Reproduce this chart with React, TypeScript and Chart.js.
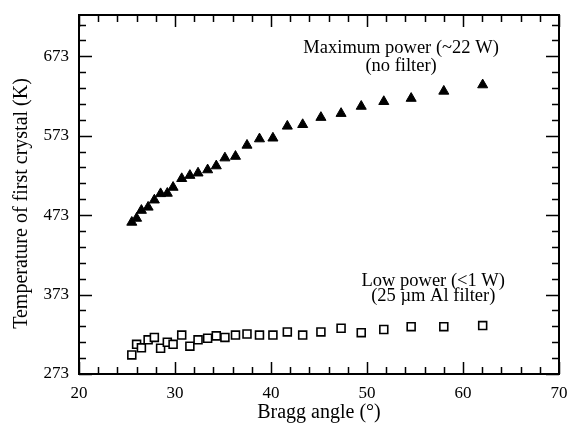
import React, { useEffect, useRef } from "react";
import { Chart, registerables } from "chart.js";

Chart.register(...registerables);

// Bragg angle (degrees) of each measurement
const braggAngles = [25.5, 26.0, 26.5, 27.2, 27.85, 28.5, 29.2, 29.8, 30.7, 31.55, 32.4, 33.4, 34.3, 35.2, 36.3, 37.5, 38.8, 40.2, 41.7, 43.3, 45.2, 47.3, 49.4, 51.75, 54.6, 58.0, 62.05];
// Maximum power (~22 W, no filter), K
const maxPowerTemps = [464, 469, 479, 483, 492, 500, 500.5, 508, 519, 523, 526, 530, 535, 545, 547, 561, 569, 570, 585, 587, 596, 601, 610, 616, 620, 629, 637];
// Low power (<1 W, 25 µm Al filter), K
const lowPowerTemps = [297, 310.4, 306, 316, 319, 305.4, 313, 310.4, 322, 308, 316, 318, 321, 319, 322, 323.4, 322, 322, 326, 322, 326, 330.6, 325, 329, 332.6, 332.6, 334];

const yTickValues = [273, 373, 473, 573, 673];
const xTitle = "Bragg angle (°)";
const yTitle = "Temperature of first crystal (K)";

const annotationTexts = ["Maximum power (~22 W)", "(no filter)", "Low power (<1 W)", "(25 µm Al filter)"];
const annotationAngles = [53.55, 53.55, 56.9, 56.9];
const annotationTemps = [683, 660, 390.5, 371];

const FONT = '"Liberation Serif", "Times New Roman", serif';

const framePlugin = {
  id: "frameTicks",
  afterDraw(chart: any) {
    const { ctx, chartArea } = chart;
    const xs = chart.scales.x;
    const ys = chart.scales.y;
    const { left, right, top, bottom } = chartArea;
    ctx.save();
    ctx.strokeStyle = "#000";
    ctx.lineWidth = 2;
    ctx.strokeRect(left, top, right - left, bottom - top);
    ctx.lineWidth = 1.5;
    ctx.beginPath();
    for (let v = xs.min; v <= xs.max + 1e-6; v += 2) {
      const px = Math.round(xs.getPixelForValue(v)) + 0.5;
      const len = Math.abs(v % 10) < 1e-6 ? 12 : 7;
      ctx.moveTo(px, bottom);
      ctx.lineTo(px, bottom - len);
      ctx.moveTo(px, top);
      ctx.lineTo(px, top + len);
    }
    for (let v = 273; v <= ys.max + 1e-6; v += 20) {
      const py = Math.round(ys.getPixelForValue(v)) + 0.5;
      const len = Math.abs((v - 273) % 100) < 1e-6 ? 13 : 7;
      ctx.moveTo(left, py);
      ctx.lineTo(left + len, py);
      ctx.moveTo(right, py);
      ctx.lineTo(right - len, py);
    }
    ctx.stroke();

    ctx.fillStyle = "#000";
    ctx.textAlign = "center";
    ctx.textBaseline = "middle";
    ctx.font = `18.5px ${FONT}`;
    annotationTexts.forEach((t, i) => {
      ctx.fillText(t, xs.getPixelForValue(annotationAngles[i]), ys.getPixelForValue(annotationTemps[i]));
    });

    ctx.font = `20px ${FONT}`;
    ctx.translate(22, (top + bottom) / 2 + 9);
    ctx.rotate(-Math.PI / 2);
    ctx.fillText(yTitle, 0, 0);
    ctx.restore();
  },
};

export default function App() {
  const ref = useRef<HTMLCanvasElement>(null);
  useEffect(() => {
    if (!ref.current) return;
    const chart = new Chart(ref.current, {
      type: "scatter",
      data: {
        datasets: [
          {
            label: "Maximum power (~22 W)",
            data: braggAngles.map((a, i) => ({ x: a, y: maxPowerTemps[i] })),
            pointStyle: "triangle",
            pointRadius: 5.8,
            backgroundColor: "#000",
            borderColor: "#000",
            borderWidth: 1,
          },
          {
            label: "Low power (<1 W)",
            data: braggAngles.map((a, i) => ({ x: a, y: lowPowerTemps[i] })),
            pointStyle: "rect",
            pointRadius: 5.6,
            backgroundColor: "#fff",
            borderColor: "#000",
            borderWidth: 1.6,
          },
        ],
      },
      options: {
        responsive: false,
        animation: false,
        devicePixelRatio: 1,
        layout: { padding: { left: 0, top: 15, right: 10, bottom: 0 } },
        plugins: { legend: { display: false }, tooltip: { enabled: false } },
        scales: {
          x: {
            type: "linear",
            min: 20,
            max: 70,
            grid: { display: false, drawTicks: false },
            border: { display: false },
            ticks: { stepSize: 10, autoSkip: false, maxRotation: 0, padding: 9, color: "#000", font: { family: FONT, size: 17 } },
            title: { display: true, text: xTitle, color: "#000", font: { family: FONT, size: 20 }, padding: { top: 0, bottom: 6 } },
            afterFit: (s: any) => { s.height = 57; s.paddingLeft = 0; s.paddingRight = 0; },
          },
          y: {
            type: "linear",
            min: 273,
            max: 725,
            grid: { display: false, drawTicks: false },
            border: { display: false },
            ticks: { autoSkip: false, padding: 10, color: "#000", font: { family: FONT, size: 17 } },
            afterBuildTicks: (s: any) => { s.ticks = yTickValues.map((v) => ({ value: v })); },
            afterFit: (s: any) => { s.width = 79; s.paddingTop = 0; s.paddingBottom = 0; },
          },
        },
      },
      plugins: [framePlugin],
    });
    return () => chart.destroy();
  }, []);
  return (
    <div style={{ position: "fixed", left: 0, top: 0, width: 569, height: 431, background: "#fff" }}>
      <canvas ref={ref} width={569} height={431} />
    </div>
  );
}
